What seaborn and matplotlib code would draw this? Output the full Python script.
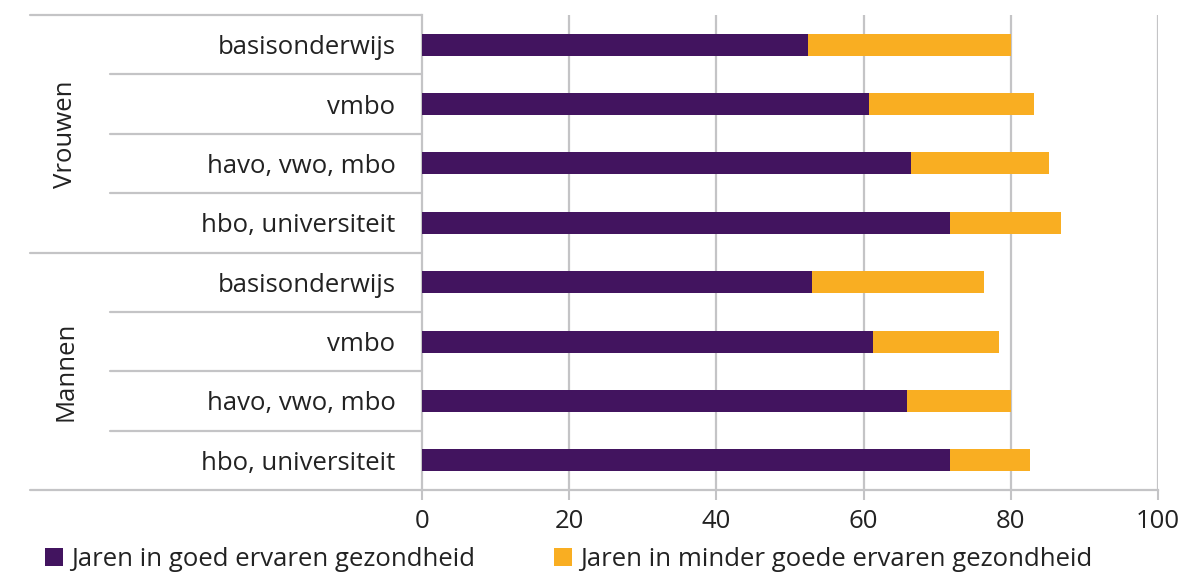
import matplotlib
matplotlib.use("Agg")
import matplotlib.pyplot as plt
import matplotlib.transforms as mtransforms
from matplotlib.patches import Patch
import seaborn as sns
import pandas as pd

groups = ["Vrouwen", "Mannen"]
education = ["basisonderwijs", "vmbo", "havo, vwo, mbo", "hbo, universiteit"]
goed_vrouwen = [52.5, 60.7, 66.5, 71.7]
totaal_vrouwen = [80.0, 83.1, 85.2, 86.8]
goed_mannen = [53.0, 61.3, 65.9, 71.7]
totaal_mannen = [76.3, 78.4, 80.0, 82.6]
legend_labels = ["Jaren in goed ervaren gezondheid", "Jaren in minder goede ervaren gezondheid"]
xticks = [0, 20, 40, 60, 80, 100]

PURPLE = "#42145F"
ORANGE = "#F9AE22"
GRID = "#C4C4C6"
TEXT = "#222222"
FS = 18.5

rows = []
for g, goed, tot in [(groups[0], goed_vrouwen, totaal_vrouwen), (groups[1], goed_mannen, totaal_mannen)]:
    for e, a, t in zip(education, goed, tot):
        rows.append({"key": f"{g}|{e}", "group": g, "edu": e, "goed": a, "totaal": t})
df = pd.DataFrame(rows)

sns.set_theme(style="white")
plt.rcParams["font.family"] = ["Open Sans", "DejaVu Sans"]

fig = plt.figure(figsize=(12, 5.82), dpi=100)
ax = fig.add_axes([422/1200, 1-490/582, 736/1200, 475/582])

sns.barplot(data=df, y="key", x="totaal", color=ORANGE, orient="h", width=0.37,
            saturation=1, ax=ax, zorder=3, linewidth=0)
sns.barplot(data=df, y="key", x="goed", color=PURPLE, orient="h", width=0.37,
            saturation=1, ax=ax, zorder=4, linewidth=0)

ax.set_xlim(0, 100)
ax.set_ylim(7.5, -0.5)
ax.set_xticks(xticks)
ax.set_xticklabels([str(v) for v in xticks], fontsize=FS, color=TEXT)
ax.set_yticks(range(len(df)))
ax.set_yticklabels(df["edu"], fontsize=FS, color=TEXT)
ax.set_xlabel("")
ax.set_ylabel("")
ax.tick_params(axis="y", length=0, pad=19)
ax.tick_params(axis="x", length=7, width=1.5, color=GRID, pad=7, bottom=True)
for v in xticks[1:]:
    ax.axvline(v, color=GRID, lw=1.6, zorder=1)
for s in ["top", "right"]:
    ax.spines[s].set_visible(False)
ax.spines["left"].set_color(GRID)
ax.spines["left"].set_linewidth(1.6)
ax.spines["bottom"].set_color(GRID)
ax.spines["bottom"].set_linewidth(1.6)

trans = mtransforms.blended_transform_factory(ax.transAxes, ax.transData)
x_outer = (30 - 422) / 736
x_inner = (110 - 422) / 736
for yb in [-0.5, 3.5, 7.5]:
    ax.plot([x_outer, 0], [yb, yb], color=GRID, lw=1.6, transform=trans, clip_on=False)
for yb in [0.5, 1.5, 2.5, 4.5, 5.5, 6.5]:
    ax.plot([x_inner, 0], [yb, yb], color=GRID, lw=1.6, transform=trans, clip_on=False)

x_group = (66 - 422) / 736
ax.text(x_group, 1.5, groups[0], rotation=90, ha="center", va="center", fontsize=FS,
        color=TEXT, transform=trans)
ax.text(x_group, 5.5, groups[1], rotation=90, ha="center", va="center", fontsize=FS,
        color=TEXT, transform=trans)

handles = [Patch(facecolor=PURPLE, edgecolor="none"), Patch(facecolor=ORANGE, edgecolor="none")]
fig.legend(handles, legend_labels, loc="lower left", bbox_to_anchor=(22/1200, -0.022),
           ncol=2, frameon=False, fontsize=FS, handlelength=0.7, handleheight=0.7,
           handletextpad=0.3, columnspacing=3.1, labelcolor=TEXT)

fig.savefig("out.png", dpi=100)
